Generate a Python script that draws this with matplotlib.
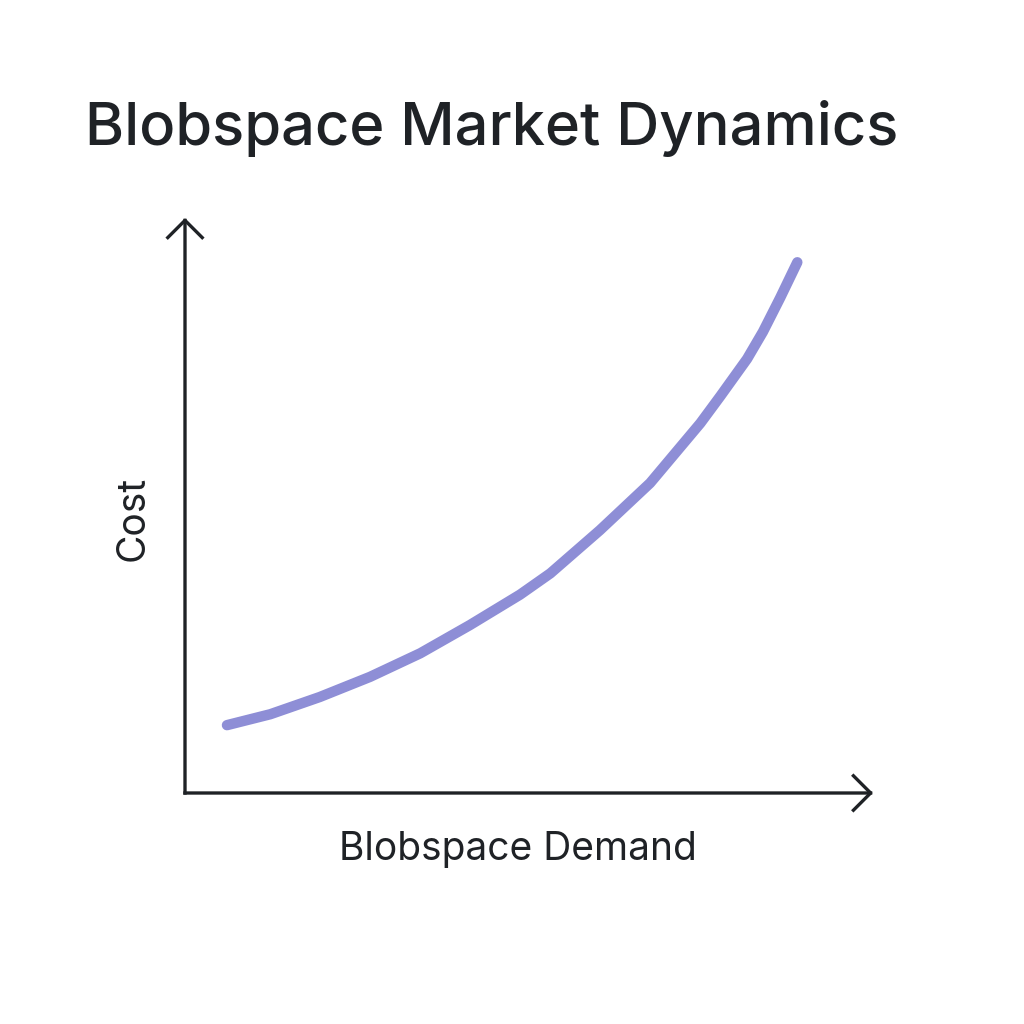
import matplotlib
matplotlib.use("Agg")
import matplotlib.pyplot as plt

plt.rcParams['font.family'] = ['Inter', 'DejaVu Sans']

# values (arbitrary units, 0..10 on both axes)
demand = [0.61, 1.24, 1.96, 2.69, 3.42, 4.14, 4.87, 5.31, 6.03, 6.76, 7.49, 7.78, 8.17, 8.40, 8.65, 8.90]
cost = [1.18, 1.37, 1.67, 2.02, 2.43, 2.92, 3.45, 3.82, 4.57, 5.39, 6.43, 6.90, 7.55, 8.02, 8.61, 9.23]

title = "Blobspace Market Dynamics"
xlabel = "Blobspace Demand"
ylabel = "Cost"

ink = '#1f2226'
curve_color = '#8e8ed6'

fig = plt.figure(figsize=(10.24, 10.24), dpi=100)
ax = fig.add_axes([185 / 1024, 231 / 1024, 688 / 1024, 575 / 1024])
ax.set_xlim(0, 10)
ax.set_ylim(0, 10)
ax.axis('off')

arrow = dict(arrowstyle='->,head_length=0.62,head_width=0.62', lw=2.4, color=ink,
             mutation_scale=20, shrinkA=0, shrinkB=0, capstyle='projecting')
ax.annotate('', xy=(10, 0), xytext=(0, 0), arrowprops=arrow, annotation_clip=False)
ax.annotate('', xy=(0, 10), xytext=(0, 0), arrowprops=arrow, annotation_clip=False)

ax.plot(demand, cost, color=curve_color, lw=7.5, solid_capstyle='round',
        solid_joinstyle='round')

fig.text(85 / 1024, 1 - 145 / 1024, title, fontsize=43, fontweight='medium',
         color=ink, ha='left', va='baseline')
fig.text(518 / 1024, 1 - 860 / 1024, xlabel, fontsize=28, color=ink,
         ha='center', va='baseline')
fig.text(133 / 1024, 1 - 518 / 1024, ylabel, fontsize=28, color=ink,
         ha='center', va='center', rotation=90)

fig.savefig('out.png', dpi=100)
